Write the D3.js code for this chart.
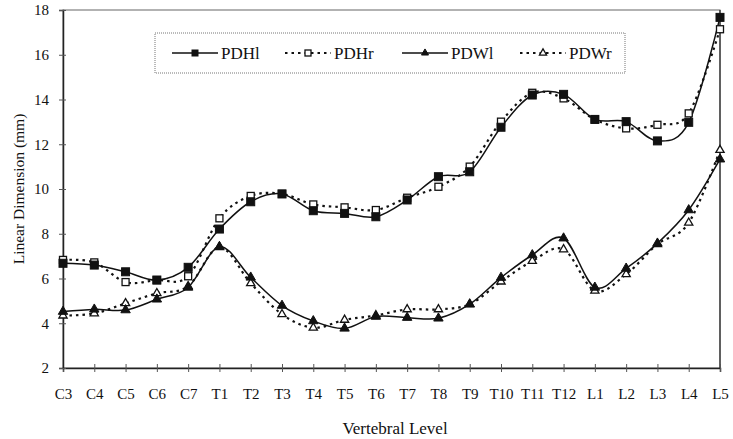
<!DOCTYPE html>
<html>
<head>
<meta charset="utf-8">
<script src="https://cdn.jsdelivr.net/npm/d3@7"></script>
<style>
  body { margin: 0; background: #fff; }
  text { font-family: "Liberation Serif", "Times New Roman", serif; fill: #111; }
</style>
</head>
<body>
<div id="chart"></div>
<script>
// vertebral levels on the x axis
const levels = ["C3","C4","C5","C6","C7","T1","T2","T3","T4","T5","T6","T7","T8","T9","T10","T11","T12","L1","L2","L3","L4","L5"];
const yTicks = [2,4,6,8,10,12,14,16,18];

// series values (mm)
const pdhl = [6.68,6.6,6.3,5.93,6.5,8.21,9.43,9.78,9.03,8.91,8.76,9.51,10.55,10.77,12.76,14.2,14.23,13.11,13.01,12.15,12.98,17.67];
const pdhr = [6.83,6.72,5.84,5.93,6.1,8.69,9.69,9.78,9.31,9.18,9.06,9.61,10.1,11.0,13.01,14.3,14.05,13.11,12.71,12.87,13.38,17.14];
const pdwl = [4.52,4.62,4.59,5.07,5.6,7.42,6.05,4.79,4.1,3.77,4.3,4.25,4.22,4.85,6.04,7.05,7.8,5.6,6.45,7.57,9.06,11.33];
const pdwr = [4.34,4.44,4.89,5.34,5.65,7.4,5.79,4.4,3.8,4.15,4.35,4.62,4.62,4.85,5.86,6.78,7.3,5.45,6.19,7.53,8.49,11.74];

const w = 733, h = 439;
const padding_left = 63, padding_right = 720, padding_top = 10, padding_bottom = 368;

const svg = d3.select('#chart').append('svg')
  .attr('width', w).attr('height', h);

const xScale = d3.scalePoint().domain(levels).range([padding_left, padding_right]);
const yScale = d3.scaleLinear().domain([2, 18]).range([padding_bottom, padding_top]);

// frame
svg.append('rect')
  .attr('x', padding_left).attr('y', padding_top)
  .attr('width', padding_right - padding_left).attr('height', padding_bottom - padding_top)
  .attr('fill', 'none').attr('stroke', '#666').attr('stroke-width', 1);
svg.append('line').attr('x1', padding_right).attr('x2', padding_right)
  .attr('y1', padding_top).attr('y2', padding_bottom)
  .attr('stroke', '#333').attr('stroke-width', 1.3);

//x-Axis
const gx = svg.append('g')
  .attr('transform', 'translate(0,' + padding_bottom + ')')
  .call(d3.axisBottom(xScale).tickSize(4).tickPadding(16));
gx.selectAll('.tick line').attr('y1', -4).attr('y2', 4).attr('stroke', '#555');
gx.select('.domain').attr('stroke', '#222').attr('stroke-width', 1.5);
gx.selectAll('text').style('font-size', '15px');

//y-Axis
const gy = svg.append('g')
  .attr('transform', 'translate(' + padding_left + ',0)')
  .call(d3.axisLeft(yScale).tickValues(yTicks).tickSize(4).tickPadding(10));
gy.selectAll('.tick line').attr('x1', -4).attr('x2', 3).attr('stroke', '#555');
gy.select('.domain').attr('stroke', '#222').attr('stroke-width', 1.5);
gy.selectAll('text').style('font-size', '15px');

// axis labels
svg.append('text')
  .text('Linear Dimension (mm)')
  .attr('transform', 'translate(18,' + ((padding_top + padding_bottom) / 2) + ') rotate(-90)')
  .attr('text-anchor', 'middle')
  .attr('dominant-baseline', 'central')
  .style('font-size', '15.5px');
svg.append('text')
  .text('Vertebral Level')
  .attr('x', 395).attr('y', 434)
  .attr('text-anchor', 'middle')
  .style('font-size', '17px');

const series = [
  { name: 'PDHl', values: pdhl, dashed: false, shape: 'square', filled: true },
  { name: 'PDHr', values: pdhr, dashed: true, shape: 'square', filled: false },
  { name: 'PDWl', values: pdwl, dashed: false, shape: 'triangle', filled: true },
  { name: 'PDWr', values: pdwr, dashed: true, shape: 'triangle', filled: false }
];

const line = d3.line()
  .x((d, i) => xScale(levels[i]))
  .y(d => yScale(d))
  .curve(d3.curveCatmullRom.alpha(0));

function styleLine(sel, s) {
  sel.attr('fill', 'none')
    .attr('stroke', '#111')
    .attr('stroke-width', s.dashed ? 2.2 : 1.5)
    .attr('stroke-dasharray', s.dashed ? '2.5,4' : null);
}

function drawMarker(g, s, cx, cy, size) {
  let m;
  if (s.shape === 'square') {
    m = g.append('rect')
      .attr('x', cx - size / 2).attr('y', cy - size / 2)
      .attr('width', size).attr('height', size);
  } else {
    m = g.append('path')
      .attr('d', d3.symbol().type(d3.symbolTriangle).size(size * size * 0.6)())
      .attr('transform', 'translate(' + cx + ',' + cy + ')');
  }
  m.attr('fill', s.filled ? '#111' : '#fff')
    .attr('stroke', '#111')
    .attr('stroke-width', s.filled ? 1 : 1.3);
}

// lines (dotted ones under solid ones)
[1, 3, 0, 2].forEach(k => {
  const s = series[k];
  svg.append('path').datum(s.values).attr('d', line).call(styleLine, s);
});

// markers
[1, 3, 0, 2].forEach(k => {
  const s = series[k];
  const g = svg.append('g');
  s.values.forEach((v, i) => drawMarker(g, s, xScale(levels[i]), yScale(v), s.filled ? 8 : 7));
});

// legend
const lg = svg.append('g');
lg.append('rect')
  .attr('x', 155).attr('y', 33).attr('width', 470).attr('height', 40)
  .attr('fill', '#fff').attr('stroke', '#777').attr('stroke-width', 1)
  .attr('stroke-dasharray', '1,1');
const legendX = [172, 285, 402, 520];
series.forEach((s, i) => {
  const x0 = legendX[i], ly = 53;
  lg.append('line')
    .attr('x1', x0).attr('x2', x0 + 46).attr('y1', ly).attr('y2', ly)
    .call(styleLine, s);
  drawMarker(lg, s, x0 + 23, ly, 6);
  lg.append('text')
    .text(s.name)
    .attr('x', x0 + 49).attr('y', ly)
    .attr('dominant-baseline', 'central')
    .style('font-size', '17px');
});
</script>
</body>
</html>
